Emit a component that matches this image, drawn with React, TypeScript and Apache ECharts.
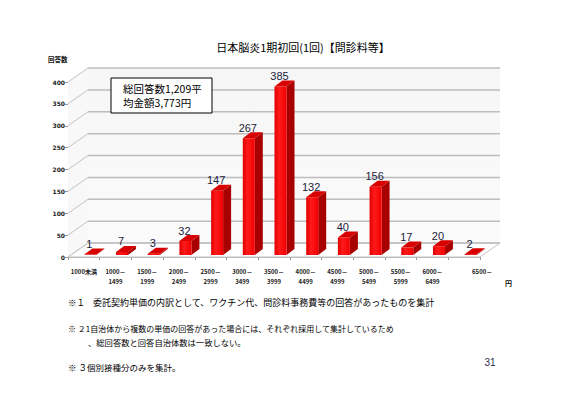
import React, { useEffect, useRef } from "react";
import * as echarts from "echarts";

const categories = [
  "1000未満",
  "1000－\n1499",
  "1500－\n1999",
  "2000－\n2499",
  "2500－\n2999",
  "3000－\n3499",
  "3500－\n3999",
  "4000－\n4499",
  "4500－\n4999",
  "5000－\n5499",
  "5500－\n5999",
  "6000－\n6499",
  "6500－",
];
const counts = [1, 7, 3, 32, 147, 267, 385, 132, 40, 156, 17, 20, 2];
const yMax = 400;
const yStep = 50;
const yTickValues = [0, 50, 100, 150, 200, 250, 300, 350, 400];

const titleText = "日本脳炎1期初回(1回)【問診料等】";
const summaryLines = ["総回答数1,209平", "均金額3,773円"];
const notes = [
  "委託契約単価の内訳として、ワクチン代、問診料事務費等の回答があったものを集計",
  "※ ２1自治体から複数の単価の回答があった場合には、それぞれ採用して集計しているため",
  "、総回答数と回答自治体数は一致しない。",
  "※ ３個別接種分のみを集計。",
];

const WALL_DX = 20;
const WALL_DY = -14;
const BAR_W = 12;
const BAR_DX = 8;
const BAR_DY = -6;
const CJK = '"Noto Sans CJK JP", "Noto Sans", sans-serif';

export default function App() {
  const ref = useRef<HTMLDivElement>(null);
  useEffect(() => {
    const chart = echarts.init(ref.current!, null, { renderer: "svg" });
    const txt = (text: string, x: number, y: number, extra: any = {}, z = 10) => ({
      type: "text",
      z,
      style: {
        text,
        x,
        y,
        align: "left",
        verticalAlign: "middle",
        fontSize: 9,
        fontFamily: CJK,
        fill: "#000",
        ...extra,
      },
    });
    const option: any = {
      animation: false,
      backgroundColor: "#ffffff",
      grid: { left: 68, right: 81, top: 82, bottom: 140, containLabel: false },
      xAxis: {
        type: "category",
        data: categories,
        axisLine: { show: true, lineStyle: { color: "#b0b0b0", width: 1 } },
        axisTick: { show: true, interval: 0, length: 3, lineStyle: { color: "#999" } },
        axisLabel: {
          interval: 0,
          margin: 9,
          fontSize: 6,
          fontWeight: "bold",
          lineHeight: 10,
          color: "#222",
          fontFamily: CJK,
          formatter: (v: string, idx: number) =>
            idx === categories.length - 1 ? "{last|" + v + "}" : v,
          rich: {
            last: {
              fontSize: 6,
              fontWeight: "bold",
              color: "#222",
              fontFamily: CJK,
              padding: [0, 0, 0, 36],
            },
          },
        },
        splitLine: { show: false },
      },
      yAxis: {
        type: "value",
        min: 0,
        max: yMax,
        interval: yStep,
        axisLine: { show: true, lineStyle: { color: "#b0b0b0" } },
        axisTick: { show: true, length: 3, lineStyle: { color: "#999" } },
        axisLabel: {
          fontSize: 6,
          fontWeight: "bold",
          color: "#222",
          margin: 3,
          fontFamily: "DejaVu Sans, sans-serif",
        },
        splitLine: { show: false },
      },
      series: [
        {
          type: "custom",
          z: 1,
          silent: true,
          data: [[0, 0]],
          renderItem: (params: any, api: any) => {
            const cs = params.coordSys;
            const x0 = cs.x;
            const x1 = cs.x + cs.width;
            const yb = api.coord([0, 0])[1];
            const yt = api.coord([0, yMax])[1];
            const children: any[] = [];
            children.push({
              type: "polygon",
              shape: {
                points: [
                  [x0 + WALL_DX, yt + WALL_DY],
                  [x1 + WALL_DX, yt + WALL_DY],
                  [x1 + WALL_DX, yb + WALL_DY],
                  [x0 + WALL_DX, yb + WALL_DY],
                ],
              },
              style: {
                fill: new echarts.graphic.LinearGradient(0, 0, 0, 1, [
                  { offset: 0, color: "#f6f6f6" },
                  { offset: 1, color: "#fbfbfb" },
                ]),
              },
            });
            children.push({
              type: "polygon",
              shape: {
                points: [
                  [x0, yt],
                  [x0 + WALL_DX, yt + WALL_DY],
                  [x0 + WALL_DX, yb + WALL_DY],
                  [x0, yb],
                ],
              },
              style: { fill: "#f8f8f8" },
            });
            children.push({
              type: "polygon",
              shape: {
                points: [
                  [x0, yb],
                  [x1, yb],
                  [x1 + WALL_DX, yb + WALL_DY],
                  [x0 + WALL_DX, yb + WALL_DY],
                ],
              },
              style: { fill: "#ffffff", stroke: "#c4c4c4", lineWidth: 1 },
            });
            yTickValues.forEach((v) => {
              const y = api.coord([0, v])[1];
              children.push({
                type: "line",
                shape: { x1: x0, y1: y, x2: x0 + WALL_DX, y2: y + WALL_DY },
                style: { stroke: "#c4c4c4", lineWidth: 1 },
              });
              children.push({
                type: "line",
                shape: {
                  x1: x0 + WALL_DX,
                  y1: y + WALL_DY,
                  x2: x1 + WALL_DX,
                  y2: y + WALL_DY,
                },
                style: { stroke: "#bdbdbd", lineWidth: 1.5 },
              });
            });
            return { type: "group", children };
          },
        },
        {
          type: "custom",
          z: 5,
          data: counts.map((v, i) => [i, v]),
          encode: { x: 0, y: 1 },
          renderItem: (params: any, api: any) => {
            const i = api.value(0);
            const v = api.value(1);
            const top = api.coord([i, v]);
            const base = api.coord([i, 0]);
            const xl = top[0] + 0.5;
            const xr = xl + BAR_W;
            const yt = top[1] - 2;
            const yb = base[1] - 2;
            return {
              type: "group",
              children: [
                {
                  type: "polygon",
                  shape: {
                    points: [
                      [xr, yt],
                      [xr + BAR_DX, yt + BAR_DY],
                      [xr + BAR_DX, yb + BAR_DY],
                      [xr, yb],
                    ],
                  },
                  style: { fill: "#a80000" },
                },
                {
                  type: "polygon",
                  shape: {
                    points: [
                      [xl, yt],
                      [xr, yt],
                      [xr, yb],
                      [xl, yb],
                    ],
                  },
                  style: {
                    fill: new echarts.graphic.LinearGradient(0, 0, 1, 0, [
                      { offset: 0, color: "#e00000" },
                      { offset: 0.4, color: "#ff1a1a" },
                      { offset: 1, color: "#f00000" },
                    ]),
                  },
                },
                {
                  type: "polygon",
                  shape: {
                    points: [
                      [xl, yt],
                      [xr, yt],
                      [xr + BAR_DX, yt + BAR_DY],
                      [xl + BAR_DX, yt + BAR_DY],
                    ],
                  },
                  style: { fill: "#d80000" },
                },
                {
                  type: "text",
                  style: {
                    text: String(v),
                    x: xl + 5,
                    y: yt - 5,
                    align: "center",
                    verticalAlign: "bottom",
                    fontSize: 11,
                    fontFamily: "Liberation Sans, Arial, sans-serif",
                    fill: "#1c1c3c",
                  },
                },
              ],
            };
          },
        },
      ],
      graphic: [
        txt(titleText, 303, 47, { align: "center", fontSize: 11 }),
        txt("回答数", 48, 59, { fontSize: 6.5, fontWeight: "bold", fill: "#111" }),
        {
          type: "rect",
          z: 20,
          shape: { x: 111, y: 78, width: 101, height: 35 },
          style: { fill: "#ffffff", stroke: "#000", lineWidth: 1 },
        },
        txt(summaryLines[0], 123, 88, { fontSize: 10.5, lineHeight: 12 }, 21),
        txt(summaryLines[1], 123, 102, { fontSize: 10.5, lineHeight: 12 }, 21),
        txt("円", 505, 283, { fontSize: 7, fontWeight: "bold", fill: "#111" }),
        txt("※１", 68, 302, { fontSize: 8.5 }),
        txt(notes[0], 93, 302, { fontSize: 9 }),
        txt(notes[1], 68, 328, { fontSize: 8 }),
        txt(notes[2], 88, 342, { fontSize: 8.3 }),
        txt(notes[3], 68, 367, { fontSize: 8.5 }),
        txt("31", 490, 362, {
          align: "center",
          fontSize: 10,
          fontFamily: "Liberation Sans, Arial, sans-serif",
          fill: "#2a2a4a",
        }),
      ],
    };
    chart.setOption(option);
    return () => chart.dispose();
  }, []);
  return (
    <div
      ref={ref}
      style={{ position: "absolute", left: 0, top: 0, width: 561, height: 397 }}
    />
  );
}
